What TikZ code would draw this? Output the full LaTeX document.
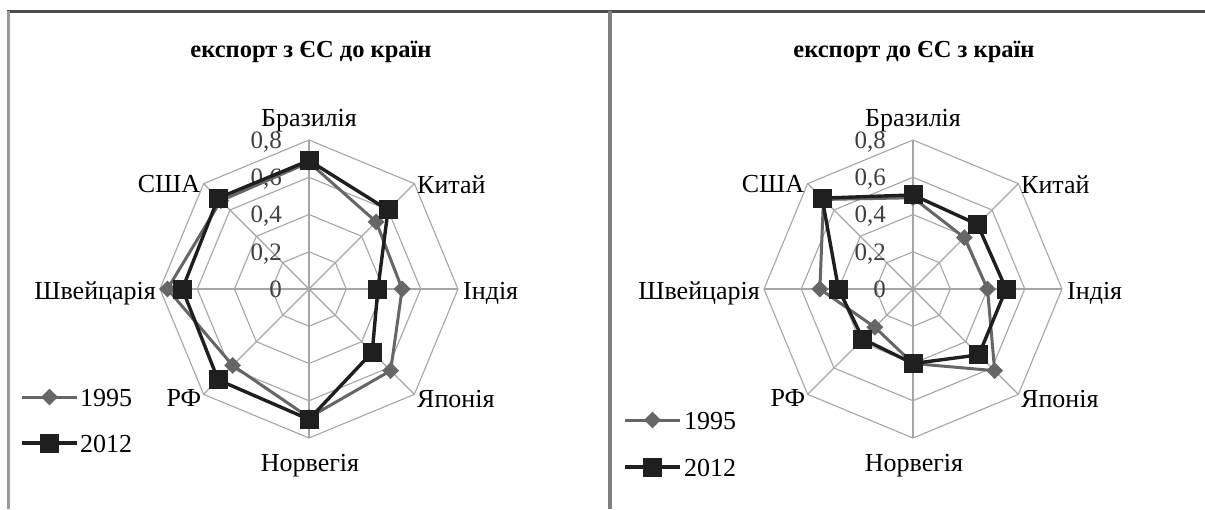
\documentclass[tikz,border=0pt]{standalone}
\usepackage{fontspec}
\setmainfont{Liberation Serif}
\usetikzlibrary{shapes.geometric}
\tikzset{
  gridline/.style={draw=black!35, line width=1.1pt},
  s95/.style={draw=black!60, line width=3pt, line join=round},
  s12/.style={draw=black!88, line width=3.4pt, line join=round},
  m95/.style={diamond, fill=black!60, inner sep=0pt, minimum size=17pt},
  m12/.style={rectangle, fill=black!88, inner sep=0pt, minimum size=19pt},
  lab/.style={font=\fontsize{26}{28}\selectfont, inner sep=0pt},
  ttl/.style={font=\bfseries\fontsize{24.5}{26}\selectfont, inner sep=0pt, anchor=base},
  tick/.style={font=\fontsize{25}{26}\selectfont, text=black!75, inner sep=0pt, anchor=base east},
}
% #1 prefix, #2 values (8, clockwise from top)
\newcommand\radarseries[3]{%
  \foreach \v [count=\i] in {#2} {\coordinate (#1-\i) at ({90-45*(\i-1)}:{\v*186.25});}
  \draw[#3] (#1-1) -- (#1-2) -- (#1-3) -- (#1-4) -- (#1-5) -- (#1-6) -- (#1-7) -- (#1-8) -- cycle;
}
\newcommand\radargrid{%
  \foreach \k in {1,...,4} {
    \draw[gridline] (90:\k*37.25) -- (45:\k*37.25) -- (0:\k*37.25) -- (-45:\k*37.25) -- (-90:\k*37.25) -- (-135:\k*37.25) -- (180:\k*37.25) -- (135:\k*37.25) -- cycle;
  }
  \foreach \a in {0,45,...,315} {\draw[gridline] (0,0) -- (\a:149);}
  \node[tick] (t0) at (-27,-8.3) {0};
  \node[tick] (t2) at (-27,28.95) {0,2};
  \node[tick] (t4) at (-27,66.2) {0,4};
  \node[tick] (t6) at (-27,103.45) {0,6};
  \node[tick] (t8) at (-27,140.7) {0,8};
}
\newcommand\radarlabels[2]{% #1 cx, #2 prefix
  \node[lab, anchor=base] (#2-br) at (#1,126) {Бразилія};
  \node[lab, anchor=base west] (#2-cn) at (#1+108,193) {Китай};
  \node[lab, anchor=base west] (#2-in) at (#1+154,299) {Індія};
  \node[lab, anchor=base west] (#2-jp) at (#1+108,407) {Японія};
  \node[lab, anchor=base] (#2-no) at (#1+1,471) {Норвегія};
  \node[lab, anchor=base] (#2-rf) at (#1-125,406) {РФ};
  \node[lab, anchor=base east] (#2-sw) at (#1-153,299) {Швейцарія};
  \node[lab, anchor=base] (#2-us) at (#1-140,192) {США};
}
\begin{document}
\begin{tikzpicture}[x=1pt,y=-1pt]
\useasboundingbox (0,0) rectangle (1205,509);
\fill[white] (0,0) rectangle (1205,509);
% frame
\draw[black!70, line width=3.5pt] (7,11.5) -- (1205,11.5);
\draw[black!40, line width=3pt] (8.5,11) -- (8.5,509);
\draw[black!50, line width=4pt] (610,11) -- (610,509);
% titles
\node[ttl] (title1) at (311,57) {експорт з ЄС до країн};
\node[ttl] (title2) at (914,57) {експорт до ЄС з країн};
% left chart
\begin{scope}[shift={(309,289)}, yscale=-1]
  \radargrid
  \radarseries{La}{0.68,0.51,0.50,0.62,0.69,0.58,0.76,0.67}{s95}
  \radarseries{Lb}{0.69,0.60,0.37,0.48,0.70,0.69,0.68,0.69}{s12}
  \foreach \i in {1,...,8} {\node[m95] (La-m\i) at (La-\i) {};}
  \foreach \i in {1,...,8} {\node[m12] (Lb-m\i) at (Lb-\i) {};}
\end{scope}
\radarlabels{309}{L}
% right chart
\begin{scope}[shift={(913,289)}, yscale=-1]
  \radargrid
  \radarseries{Ra}{0.49,0.39,0.40,0.62,0.40,0.29,0.50,0.68}{s95}
  \radarseries{Rb}{0.505,0.49,0.50,0.50,0.40,0.38,0.40,0.69}{s12}
  \foreach \i in {1,...,8} {\node[m95] (Ra-m\i) at (Ra-\i) {};}
  \foreach \i in {1,...,8} {\node[m12] (Rb-m\i) at (Rb-\i) {};}
\end{scope}
\radarlabels{913}{R}
% legends
\coordinate (lg1a) at (22,397); \coordinate (lg1b) at (77,397);
\draw[s95] (lg1a) -- (lg1b); \node[m95] (lg1m) at (49.5,397) {};
\node[lab, anchor=base west] (lg1t) at (80,406) {1995};
\coordinate (lg2a) at (22,443); \coordinate (lg2b) at (77,443);
\draw[s12] (lg2a) -- (lg2b); \node[m12] (lg2m) at (49.5,443) {};
\node[lab, anchor=base west] (lg2t) at (80,452) {2012};
\coordinate (rg1a) at (625,420); \coordinate (rg1b) at (680,420);
\draw[s95] (rg1a) -- (rg1b); \node[m95] (rg1m) at (652.5,420) {};
\node[lab, anchor=base west] (rg1t) at (684,429) {1995};
\coordinate (rg2a) at (625,467); \coordinate (rg2b) at (680,467);
\draw[s12] (rg2a) -- (rg2b); \node[m12] (rg2m) at (652.5,467) {};
\node[lab, anchor=base west] (rg2t) at (684,476) {2012};
\end{tikzpicture}
\end{document}
